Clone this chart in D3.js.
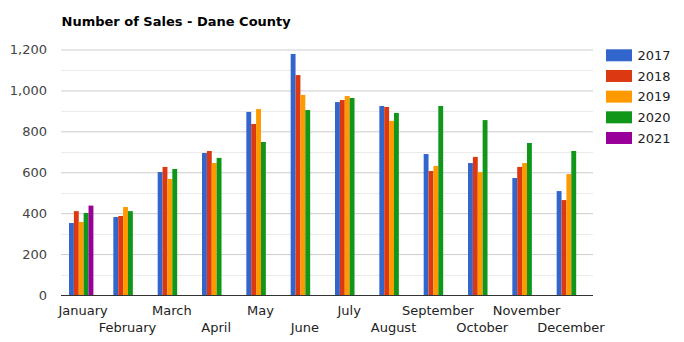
<!DOCTYPE html>
<html>
<head>
<meta charset="utf-8">
<script src="https://cdn.jsdelivr.net/npm/d3@7/dist/d3.min.js"></script>
<style>
  html, body { margin: 0; padding: 0; background: #fff; }
  svg { display: block; font-family: "DejaVu Sans", Verdana, sans-serif; }
</style>
</head>
<body>
<svg id="chart" width="684" height="342"></svg>
<script>
// Monthly home sales, Dane County, by year
const months = ["January", "February", "March", "April", "May", "June",
                "July", "August", "September", "October", "November", "December"];
const years = ["2017", "2018", "2019", "2020", "2021"];
const sales2017 = [352, 381, 601, 694, 895, 1178, 943, 924, 689, 645, 572, 508];
const sales2018 = [410, 386, 626, 704, 836, 1075, 953, 919, 606, 675, 626, 464];
const sales2019 = [357, 430, 567, 645, 909, 978, 973, 851, 631, 601, 645, 591];
const sales2020 = [401, 410, 616, 670, 748, 904, 963, 890, 924, 855, 743, 704];
const sales2021 = [437, null, null, null, null, null, null, null, null, null, null, null];
const yTicks = [0, 200, 400, 600, 800, 1000, 1200];
const yMinorTicks = [100, 300, 500, 700, 900, 1100];
const colors = ["#3366cc", "#dc3912", "#ff9900", "#109618", "#990099"];

const seriesValues = [sales2017, sales2018, sales2019, sales2020, sales2021];
const rows = [];
months.forEach((m, i) => {
  years.forEach((yr, j) => {
    const v = seriesValues[j][i];
    if (v != null) rows.push({ month: m, year: yr, value: v });
  });
});

const svg = d3.select("#chart");
const plot = { left: 61, right: 593, top: 49.5, bottom: 295 };

const x = d3.scaleBand().domain(months).range([plot.left, plot.right]).padding(0);
const x1 = d3.scaleBand().domain(years).range([8, 32.4]).padding(0);
const y = d3.scaleLinear().domain([0, 1200]).range([plot.bottom, plot.top]);
const color = d3.scaleOrdinal().domain(years).range(colors);

// Title
svg.append("text")
  .attr("x", 61.5).attr("y", 25.5)
  .attr("font-size", 13).attr("font-weight", "bold").attr("fill", "#000")
  .text("Number of Sales - Dane County");

// Minor gridlines
svg.append("g").selectAll("line").data(yMinorTicks).join("line")
  .attr("x1", plot.left).attr("x2", plot.right)
  .attr("y1", d => Math.round(y(d)) + 0.5).attr("y2", d => Math.round(y(d)) + 0.5)
  .attr("stroke", "#ebebeb").attr("stroke-width", 1);

// Major gridlines + y labels via axis
const yAxis = d3.axisLeft(y).tickValues(yTicks).tickFormat(d3.format(",")).tickSize(0).tickPadding(14);
const gy = svg.append("g").attr("transform", `translate(${plot.left},0)`).call(yAxis);
gy.select(".domain").remove();
gy.selectAll("text").attr("font-size", 13).attr("fill", "#444")
  .attr("font-family", "DejaVu Sans, Verdana, sans-serif");
gy.selectAll(".tick").filter(d => d !== 0).append("line")
  .attr("x1", 0).attr("x2", plot.right - plot.left)
  .attr("stroke", "#cccccc").attr("stroke-width", 1);

// Bars
svg.append("g").selectAll("rect").data(rows).join("rect")
  .attr("x", d => x(d.month) + x1(d.year))
  .attr("width", x1.bandwidth())
  .attr("y", d => y(d.value))
  .attr("height", d => y(0) - y(d.value))
  .attr("fill", d => color(d.year));

// Baseline
svg.append("line")
  .attr("x1", plot.left).attr("x2", plot.right)
  .attr("y1", y(0) + 0.5).attr("y2", y(0) + 0.5)
  .attr("stroke", "#333").attr("stroke-width", 1);

// Month labels, staggered in two rows
const xAxis = d3.axisBottom(x).tickSize(0).tickPadding(0);
const gx = svg.append("g").attr("transform", `translate(0,${plot.bottom})`).call(xAxis);
gx.select(".domain").remove();
gx.selectAll("text")
  .attr("font-size", 13).attr("fill", "#222")
  .attr("font-family", "DejaVu Sans, Verdana, sans-serif")
  .attr("dy", null)
  .attr("y", (d, i) => i % 2 === 0 ? 20 : 36.5);

// Legend
const legend = svg.append("g").selectAll("g").data(years).join("g")
  .attr("transform", (d, i) => `translate(606,${49.3 + i * 20.67})`);
legend.append("rect").attr("width", 26).attr("height", 12).attr("fill", d => color(d));
legend.append("text").attr("x", 31.5).attr("y", 10.8)
  .attr("font-size", 13).attr("fill", "#222").text(d => d);
</script>
</body>
</html>
